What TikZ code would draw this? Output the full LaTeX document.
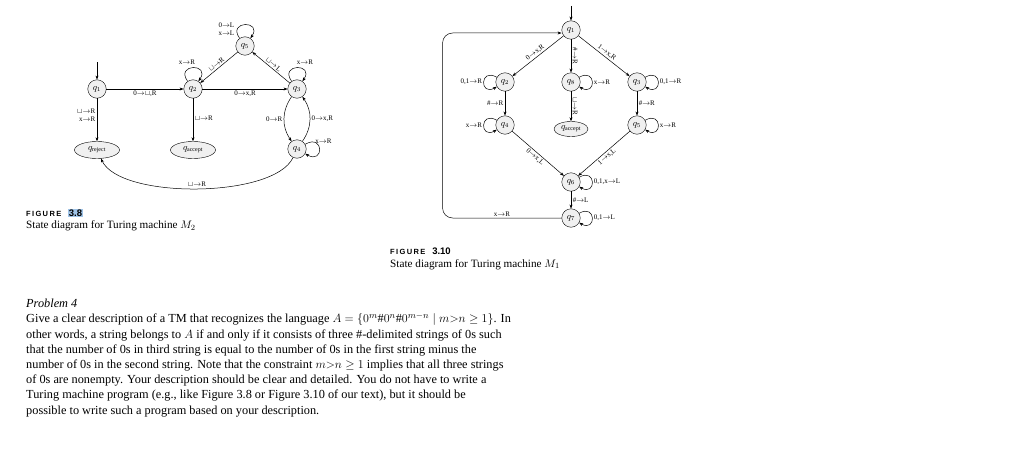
\documentclass[tikz,border=0pt]{standalone}
\usepackage{amsmath,amssymb}
\usepackage{fontspec}
\setmainfont{Liberation Serif}
\newfontfamily\figcaps[LetterSpace=18]{Liberation Sans}
\newfontfamily\fignum{Liberation Sans}
\usetikzlibrary{arrows.meta,shapes.geometric}
\definecolor{hlblue}{RGB}{160,196,232}
\newcommand{\ra}{{\rightarrow}}
\newcommand{\blank}{{\sqcup}}

\begin{document}
\begin{tikzpicture}[
    x=1pt, y=-1pt,
    st/.style={
        draw,
        circle,
        fill=gray!12,
        minimum size=18.5pt,
        inner sep=0pt,
        font=\small
    },
    acc/.style={
        draw,
        ellipse,
        fill=gray!12,
        minimum width=45pt,
        minimum height=17pt,
        inner sep=0pt,
        font=\small
    },
    arr/.style={-{Stealth[length=4pt,width=3pt]}, line width=0.5pt},
    lbl/.style={font=\fontsize{7}{8}\selectfont, inner sep=1.5pt},
    caption/.style={anchor=north west, align=left, inner sep=0pt, font=\fontsize{11.2}{12.5}\selectfont}
]
    \useasboundingbox[fill=white] (0,0) rectangle (1024,460);

    %% Figure 3.8: machine M2
    \node[st] (q1) at (97,89) {$q_1$};
    \node[st] (q2) at (193,89) {$q_2$};
    \node[st] (q3) at (297,89) {$q_3$};
    \node[st] (q5) at (245,46) {$q_5$};
    \node[st] (q4) at (297,149) {$q_4$};
    \node[acc] (qrej) at (97,150) {$q_{\text{reject}}$};
    \node[acc] (qacc) at (193,150) {$q_{\text{accept}}$};
    \coordinate (start2) at (97,62);

    \draw[arr] (start2) -- (q1);
    \draw[arr] (q1) -- node[lbl, below] {0$\ra\blank$,R} (q2);
    \draw[arr] (q2) -- node[lbl, below] {0$\ra$x,R} (q3);
    \draw[arr] (q1) -- node[lbl, left, align=right, pos=0.4] {$\blank\ra$R\\x$\ra$R} (qrej);
    \draw[arr] (q2) -- node[lbl, right, pos=0.45] {$\blank\ra$R} (qacc);
    \draw[arr] (q3) -- node[lbl, sloped, above] {$\blank\ra$L} (q5);
    \draw[arr] (q5) -- node[lbl, sloped, above] {$\blank\ra$R} (q2);
    \draw[arr] (q3) to[bend right=35] node[lbl, left] {0$\ra$R} (q4);
    \draw[arr] (q4) to[bend right=35] node[lbl, right] {0$\ra$x,R} (q3);
    \draw[arr] (q4) to[out=-115, in=-65, looseness=0.6] node[lbl, above] {$\blank\ra$R} (qrej);
    \draw[arr] (q2) to[out=125, in=55, loop, min distance=22pt] node[lbl, anchor=south, xshift=-6pt, yshift=1pt] {x$\ra$R} (q2);
    \draw[arr] (q3) to[out=125, in=55, loop, min distance=22pt] node[lbl, anchor=south, xshift=8pt, yshift=1pt] {x$\ra$R} (q3);
    \draw[arr] (q5) to[out=125, in=55, loop, min distance=22pt] node[lbl, anchor=east, align=left, xshift=-9pt, yshift=-4pt] {0$\ra$L\\x$\ra$L} (q5);
    \draw[arr] (q4) to[out=30, in=-30, loop, min distance=22pt] node[lbl, above, xshift=4pt, yshift=4pt] {x$\ra$R} (q4);

    \node[caption] (cap38) at (26,209) {{\figcaps\bfseries\fontsize{7.5}{9}\selectfont FIGURE}\hspace{7pt}{\fignum\bfseries\fontsize{9.5}{10}\selectfont\setlength{\fboxsep}{0.6pt}\colorbox{hlblue}{3.8}}\\[0pt]
        State diagram for Turing machine $M_2$};

    %% Figure 3.10: machine M1
    \node[st] (p1) at (571,30) {$q_1$};
    \node[st] (p2) at (505,82) {$q_2$};
    \node[st] (p8) at (571,82) {$q_8$};
    \node[st] (p3) at (637,82) {$q_3$};
    \node[st] (p4) at (505,125) {$q_4$};
    \node[acc, minimum width=34pt, minimum height=15pt] (pacc) at (571,129) {$q_{\text{accept}}$};
    \node[st] (p5) at (637,125) {$q_5$};
    \node[st] (p6) at (571,182) {$q_6$};
    \node[st] (p7) at (571,218) {$q_7$};
    \coordinate (start1) at (571,6);

    \draw[arr] (start1) -- (p1);
    \draw[arr] (p1) -- node[lbl, sloped, above] {0$\ra$x,R} (p2);
    \draw[arr] (p1) -- node[lbl, anchor=south, rotate=-90] {\#$\ra$R} (p8);
    \draw[arr] (p1) -- node[lbl, sloped, above] {1$\ra$x,R} (p3);
    \draw[arr] (p2) -- node[lbl, left] {\#$\ra$R} (p4);
    \draw[arr] (p8) -- node[lbl, anchor=south, rotate=-90] {$\blank\ra$R} (pacc);
    \draw[arr] (p3) -- node[lbl, right] {\#$\ra$R} (p5);
    \draw[arr] (p4) -- node[lbl, sloped, below] {0$\ra$x,L} (p6);
    \draw[arr] (p5) -- node[lbl, sloped, below] {1$\ra$x,L} (p6);
    \draw[arr] (p6) -- node[lbl, right] {\#$\ra$L} (p7);
    \draw[arr, rounded corners=10pt] (p7.west) -- node[lbl, above] {x$\ra$R} ++(-119,0) |- ([yshift=-3pt]p1.west);
    \draw[arr] (p2) to[out=150, in=210, loop, min distance=20pt] node[lbl, left] {0,1$\ra$R} (p2);
    \draw[arr] (p8) to[out=30, in=-30, loop, min distance=20pt] node[lbl, right] {x$\ra$R} (p8);
    \draw[arr] (p3) to[out=30, in=-30, loop, min distance=20pt] node[lbl, right] {0,1$\ra$R} (p3);
    \draw[arr] (p4) to[out=150, in=210, loop, min distance=20pt] node[lbl, left] {x$\ra$R} (p4);
    \draw[arr] (p5) to[out=30, in=-30, loop, min distance=20pt] node[lbl, right] {x$\ra$R} (p5);
    \draw[arr] (p6) to[out=30, in=-30, loop, min distance=20pt] node[lbl, right] {0,1,x$\ra$L} (p6);
    \draw[arr] (p7) to[out=30, in=-30, loop, min distance=20pt] node[lbl, right] {0,1$\ra$L} (p7);

    \node[caption] (cap310) at (390,248) {{\figcaps\bfseries\fontsize{7.5}{9}\selectfont FIGURE}\hspace{7pt}{\fignum\bfseries\fontsize{9.5}{10}\selectfont 3.10}\\[0pt]
        State diagram for Turing machine $M_1$};

    %% Problem text
    \node[anchor=north west, align=left, inner sep=0pt, font=\fontsize{12.3}{15.2}\selectfont] (prob) at (26,299) {\textit{Problem 4}\\
        Give a clear description of a TM that recognizes the language $A=\{0^m\#0^n\#0^{m-n}\mid m{>}n\geq 1\}$. In\\
        other words, a string belongs to $A$ if and only if it consists of three \#-delimited strings of 0s such\\
        that the number of 0s in third string is equal to the number of 0s in the first string minus the\\
        number of 0s in the second string. Note that the constraint $m{>}n\geq 1$ implies that all three strings\\
        of 0s are nonempty. Your description should be clear and detailed. You do not have to write a\\
        Turing machine program (e.g., like Figure 3.8 or Figure 3.10 of our text), but it should be\\
        possible to write such a program based on your description.};
\end{tikzpicture}
\end{document}
